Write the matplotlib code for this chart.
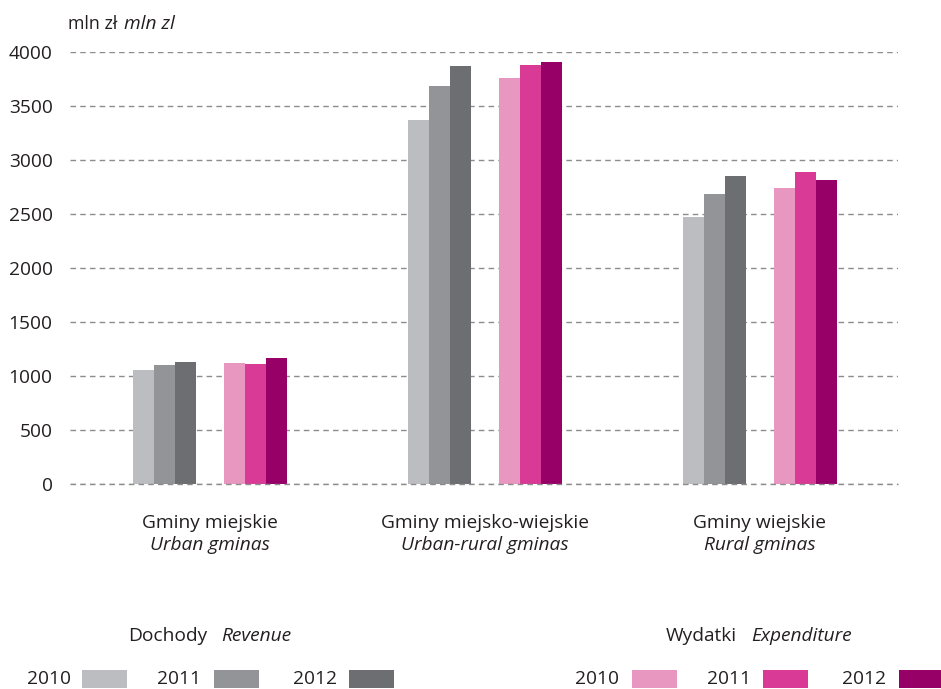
import matplotlib
matplotlib.use("Agg")
import matplotlib.pyplot as plt
from matplotlib.patches import Rectangle

plt.rcParams['font.family'] = ['Open Sans', 'DejaVu Sans']

categories_pl = ["Gminy miejskie", "Gminy miejsko-wiejskie", "Gminy wiejskie"]
categories_en = ["Urban gminas", "Urban-rural gminas", "Rural gminas"]
years = ["2010", "2011", "2012"]
revenue = {
    "2010": [1055, 3370, 2470],
    "2011": [1100, 3685, 2685],
    "2012": [1130, 3870, 2850],
}
expenditure = {
    "2010": [1120, 3760, 2740],
    "2011": [1110, 3880, 2890],
    "2012": [1165, 3905, 2815],
}
yticks = [0, 500, 1000, 1500, 2000, 2500, 3000, 3500, 4000]

rev_colors = ["#BCBDC1", "#939498", "#6D6E71"]
exp_colors = ["#E897C1", "#D93A96", "#970067"]

FS = 13.8
TC = "#231F20"
W, H = 941, 689
fig = plt.figure(figsize=(W / 100, H / 100), dpi=100)
ax = fig.add_axes([70 / W, 1 - 484 / H, (898 - 70) / W, (484 - 52) / H])

bw = 21.3 / 275
set_off = 45.5 / 275
x = list(range(len(categories_pl)))
for i, yr in enumerate(years):
    ax.bar([xi - set_off + (i - 1) * bw for xi in x], revenue[yr], width=bw,
           color=rev_colors[i], zorder=3)
    ax.bar([xi + set_off + (i - 1) * bw for xi in x], expenditure[yr], width=bw,
           color=exp_colors[i], zorder=3)

ax.set_xlim(-140 / 275, 2 + 138 / 275)
ax.set_ylim(0, 4000)
ax.set_yticks(yticks)
ax.set_yticklabels([str(v) for v in yticks], fontsize=FS, color=TC)
ax.yaxis.grid(True, linestyle=(0, (4, 3)), color="#8C8C8C", linewidth=1.0, zorder=0)
ax.set_axisbelow(True)
ax.tick_params(axis='y', length=0, pad=12.5)
ax.set_xticks([])
for s in ax.spines.values():
    s.set_visible(False)
ax.axhline(0, linestyle=(0, (4, 3)), color="#8C8C8C", linewidth=1.0, zorder=4, clip_on=False)

# unit label
fig.text(68 / W, 1 - 24 / H, "mln zł", fontsize=12.8, ha='left', va='center', color=TC)
fig.text(124 / W, 1 - 24 / H, "mln zl", fontsize=FS, style='italic', ha='left', va='center', color=TC)

# category labels
for xi, pl, en in zip(x, categories_pl, categories_en):
    fig.text((70 + (xi + 140 / 275) * 275) / W, 1 - 523 / H, pl, ha='center', va='center',
             fontsize=FS, color=TC)
    fig.text((70 + (xi + 140 / 275) * 275) / W, 1 - 545 / H, en, ha='center', va='center',
             fontsize=FS, style='italic', color=TC)

# legend headers
fig.text(207 / W, 1 - 636 / H, "Dochody", fontsize=FS, ha='right', va='center', color=TC)
fig.text(221 / W, 1 - 636 / H, "Revenue", fontsize=FS, style='italic', ha='left', va='center', color=TC)
fig.text(737 / W, 1 - 636 / H, "Wydatki", fontsize=FS, ha='right', va='center', color=TC)
fig.text(751 / W, 1 - 636 / H, "Expenditure", fontsize=FS, style='italic', ha='left', va='center', color=TC)

# legend rows
rev_text_x = [27, 157, 293]
rev_patch_x = [82, 214, 349]
exp_text_x = [575, 707, 842]
exp_patch_x = [632, 763, 899]
for i, yr in enumerate(years):
    for tx, px, col in ((rev_text_x[i], rev_patch_x[i], rev_colors[i]),
                        (exp_text_x[i], exp_patch_x[i], exp_colors[i])):
        fig.text(tx / W, 1 - 679 / H, yr, fontsize=FS, ha='left', va='center', color=TC)
        fig.add_artist(Rectangle((px / W, 1 - 688 / H), 45 / W, 18 / H,
                                 transform=fig.transFigure, color=col, linewidth=0))

fig.savefig("out.png", dpi=100)
